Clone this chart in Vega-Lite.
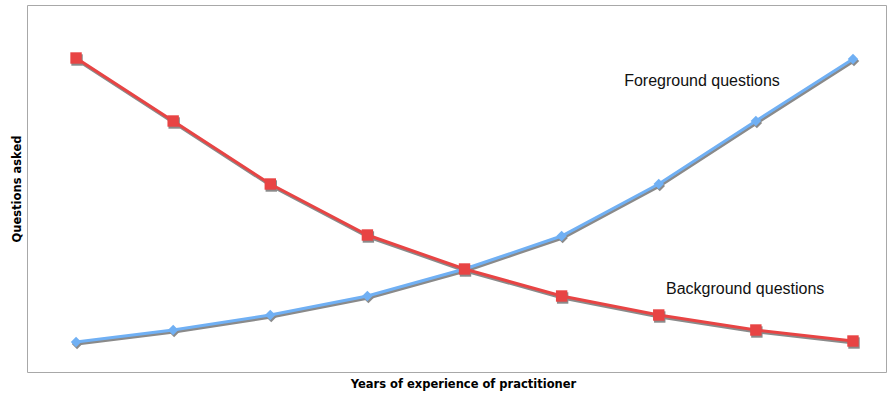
{
  "$schema": "https://vega.github.io/schema/vega-lite/v6.json",
  "width": 859,
  "height": 367,
  "padding": {"left": 27, "top": 5, "right": 3, "bottom": 23},
  "autosize": "none",
  "background": "white",
  "config": {
    "view": {"stroke": "#a8a8a8", "strokeWidth": 1},
    "axis": {"grid": false, "labels": false, "ticks": false, "domain": false, "titleFont": "DejaVu Sans", "titleFontWeight": "bold", "titleFontSize": 11.5, "titleColor": "#000"}
  },
  "data": {
    "values": [
      {"x": 1, "q": 314, "s": "Background"}, {"x": 2, "q": 251, "s": "Background"}, {"x": 3, "q": 188, "s": "Background"},
      {"x": 4, "q": 137, "s": "Background"}, {"x": 5, "q": 103, "s": "Background"}, {"x": 6, "q": 76, "s": "Background"},
      {"x": 7, "q": 57, "s": "Background"}, {"x": 8, "q": 42, "s": "Background"}, {"x": 9, "q": 31, "s": "Background"},
      {"x": 1, "q": 30, "s": "Foreground"}, {"x": 2, "q": 42, "s": "Foreground"}, {"x": 3, "q": 57, "s": "Foreground"},
      {"x": 4, "q": 76, "s": "Foreground"}, {"x": 5, "q": 103, "s": "Foreground"}, {"x": 6, "q": 136, "s": "Foreground"},
      {"x": 7, "q": 188, "s": "Foreground"}, {"x": 8, "q": 251, "s": "Foreground"}, {"x": 9, "q": 313, "s": "Foreground"}
    ]
  },
  "encoding": {
    "x": {"field": "x", "type": "quantitative", "scale": {"domain": [0.495, 9.34], "nice": false, "zero": false}, "axis": {"title": "Years of experience of practitioner", "titlePadding": 6, "titleX": 436, "titleAlign": "center", "titleAnchor": null}},
    "y": {"field": "q", "type": "quantitative", "scale": {"domain": [0, 367], "nice": false}, "axis": {"title": "Questions asked", "titlePadding": 5}}
  },
  "layer": [
    {"mark": {"type": "line", "stroke": "#8a8a8a", "strokeWidth": 3, "xOffset": 1, "yOffset": 2}, "encoding": {"detail": {"field": "s"}}},
    {"transform": [{"filter": "datum.s == 'Foreground'"}], "mark": {"type": "point", "shape": "diamond", "filled": true, "color": "#8a8a8a", "size": 110, "opacity": 1, "xOffset": 1, "yOffset": 2}},
    {"transform": [{"filter": "datum.s == 'Background'"}], "mark": {"type": "point", "shape": "square", "filled": true, "color": "#8a8a8a", "size": 130, "opacity": 1, "xOffset": 1, "yOffset": 2}},
    {"mark": {"type": "line", "strokeWidth": 3}, "encoding": {"color": {"field": "s", "type": "nominal", "scale": {"domain": ["Background", "Foreground"], "range": ["#e84444", "#70b0f4"]}, "legend": null}}},
    {"transform": [{"filter": "datum.s == 'Foreground'"}], "mark": {"type": "point", "shape": "diamond", "filled": true, "color": "#70b0f4", "size": 110, "opacity": 1}},
    {"transform": [{"filter": "datum.s == 'Background'"}], "mark": {"type": "point", "shape": "square", "filled": true, "color": "#e84444", "size": 130, "opacity": 1}},
    {"data": {"values": [{"label": "Foreground questions", "lx": 7.445, "ly": 291}, {"label": "Background questions", "lx": 7.89, "ly": 83}]},
     "mark": {"type": "text", "font": "Liberation Sans", "fontSize": 16, "color": "#111", "align": "center", "baseline": "middle"},
     "encoding": {"x": {"field": "lx", "type": "quantitative"}, "y": {"field": "ly", "type": "quantitative"}, "text": {"field": "label"}}}
  ]
}
